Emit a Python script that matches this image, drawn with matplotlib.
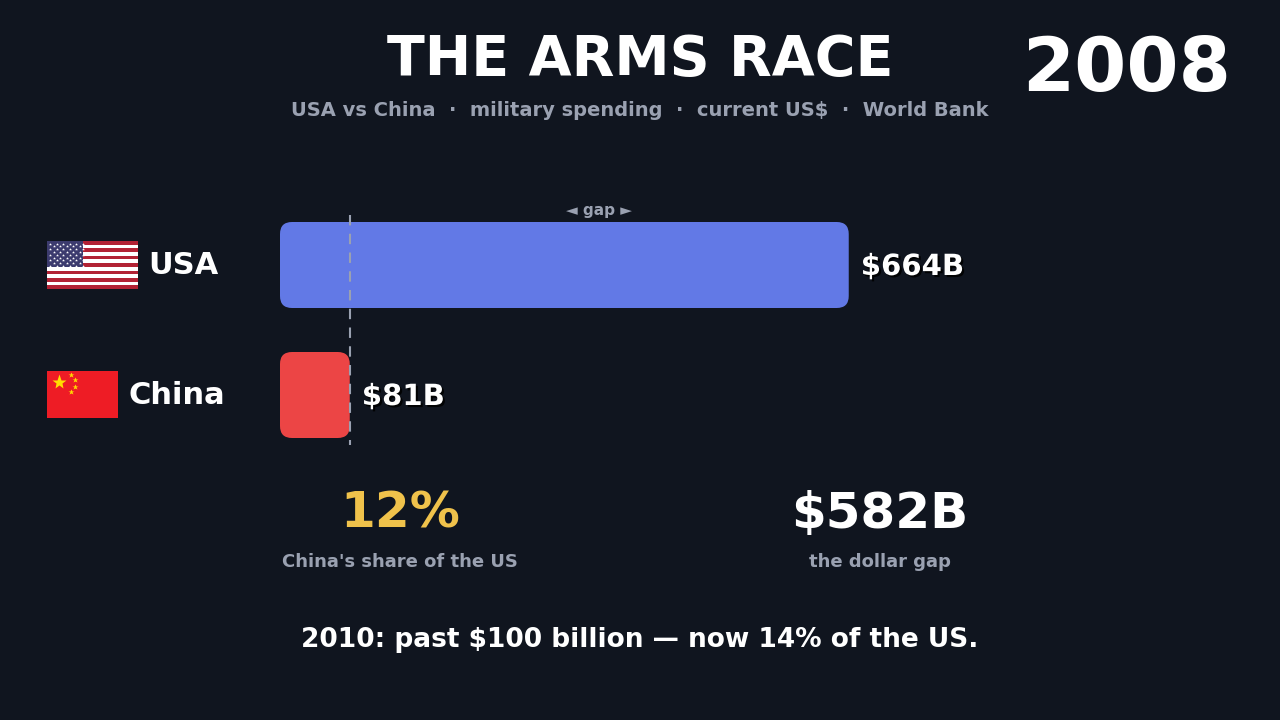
import matplotlib.pyplot as plt
import matplotlib.patheffects as pe
from matplotlib.patches import FancyBboxPatch, Rectangle

year = "2008"
countries = ["USA", "China"]
spending = [663.7, 81.4]  # billions current US$
colors = ["#6279e6", "#ec4545"]
note = "2010: past $100 billion \u2014 now 14% of the US."

BG = "#10151f"
GREY = "#9aa1b1"
PX = 569 / 664  # pixels per billion

fig = plt.figure(figsize=(12.8, 7.2), dpi=100, facecolor=BG)
# overlay in pixel coordinates
ov = fig.add_axes([0, 0, 1, 1])
ov.set_xlim(0, 1280)
ov.set_ylim(720, 0)
ov.axis("off")

# bar axes: x in billions, y in pixels
ax = fig.add_axes([280 / 1280, 0, 1000 / 1280, 1])
ax.set_xlim(0, 1000 / PX)
ax.set_ylim(720, 0)
ax.axis("off")
ax.patch.set_alpha(0)

shadow = [pe.withSimplePatchShadow(offset=(1.5, -1.5), shadow_rgbFace="black", alpha=0.9)]
ys = [265, 395]
for c, v, col, y in zip(countries, spending, colors, ys):
    r = 12 / PX
    ax.add_patch(FancyBboxPatch((0, y - 43), v, 86,
                                boxstyle=f"round,pad=0,rounding_size={r}",
                                mutation_aspect=PX, fc=col, ec="none"))
    ax.text(v + 12 / PX, y + 2, f"${v:.0f}B", color="white", fontsize=21,
            fontweight="bold", va="center", ha="left", path_effects=shadow)

usa, china = spending
ax.plot([china, china], [215, 445], color=GREY, lw=1.5, ls=(0, (5, 4)))
ax.text((china + usa) / 2, 211, "\u25c4 gap \u25ba", color=GREY, fontsize=11,
        fontweight="bold", ha="center", va="center")

# labels
ov.text(148, 266, "USA", color="white", fontsize=22, fontweight="bold", va="center")
ov.text(129, 396, "China", color="white", fontsize=22, fontweight="bold", va="center")

# US flag
x0, y0, w, h = 47, 241, 91, 48
for i in range(13):
    ov.add_patch(Rectangle((x0, y0 + i * h / 13), w, h / 13,
                           fc="#b22234" if i % 2 == 0 else "white", ec="none"))
ov.add_patch(Rectangle((x0, y0), w * 0.4, h * 7 / 13, fc="#3c3b6e", ec="none"))
for r_ in range(9):
    n = 6 if r_ % 2 == 0 else 5
    off = 3 if r_ % 2 == 0 else 6.5
    for k in range(n):
        ov.plot(x0 + off + k * 6.5, y0 + 2.5 + r_ * 2.8, marker="*", ms=2.2,
                color="white", mec="none")

# China flag
cx0, cy0, cw, ch = 47, 371, 71, 47
ov.add_patch(Rectangle((cx0, cy0), cw, ch, fc="#ee1c25", ec="none"))
ov.plot(cx0 + 12, cy0 + 11, marker="*", ms=11, color="#ffde00", mec="none")
for dx, dy in [(24, 4), (28, 9), (28, 16), (24, 21)]:
    ov.plot(cx0 + dx, cy0 + dy, marker="*", ms=4, color="#ffde00", mec="none")

# titles
ov.text(640, 60, "THE ARMS RACE", color="white", fontsize=40, fontweight="bold",
        ha="center", va="center")
ov.text(640, 111, "USA vs China  \u00b7  military spending  \u00b7  current US$  \u00b7  World Bank",
        color=GREY, fontsize=14, fontweight="bold", ha="center", va="center")
ov.text(1127, 71, year, color="white", fontsize=54, fontweight="bold",
        ha="center", va="center")

# stats
share = round(china / usa * 100)
gap = usa - china
ov.text(400, 514, f"{share}%", color="#f0c24b", fontsize=36, fontweight="bold",
        ha="center", va="center")
ov.text(400, 562, "China's share of the US", color=GREY, fontsize=13,
        fontweight="bold", ha="center", va="center")
ov.text(880, 514, f"${gap:.0f}B", color="white", fontsize=36, fontweight="bold",
        ha="center", va="center")
ov.text(880, 562, "the dollar gap", color=GREY, fontsize=13,
        fontweight="bold", ha="center", va="center")

ov.text(640, 640, note, color="white", fontsize=19, fontweight="bold",
        ha="center", va="center")

fig.savefig("out.png", dpi=100, facecolor=BG)
